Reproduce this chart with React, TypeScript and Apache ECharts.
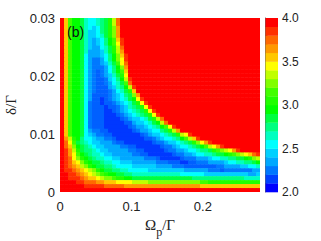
import React, { useEffect, useRef } from "react";
import * as echarts from "echarts";

// Colour levels of the legend bar, from 2.0 (a) up to 4.0 (t), 0.1 per level.
const levelColors = [
  "#0000ff", "#0040ff", "#0078ff", "#00a8ff", "#00d0ff", "#00ffff", "#00ffc0", "#00ff80", "#00ff40", "#00ff00",
  "#20ff00", "#40ff00", "#80ff00", "#c0ff00", "#ffff00", "#ffc800", "#ff9800", "#ff6800", "#ff3000", "#ff0000",
];
// The two deepest bands look lighter in the map than in the bar.
const deepMapColors = ["#0038ff", "#0060ff"];
const levelMin = 2;
const levelStep = 0.1;
const xMax = 0.28;
const yMax = 0.03;
const xTicks = [0, 0.1, 0.2];
const yTicks = [0, 0.01, 0.02, 0.03];
const barTicks = [2, 2.5, 3, 3.5, 4];
const columnCount = 50;

// Levels, one string per row from the top down; a row's last letter holds to the right edge.
const heatRows = [
  "tpljjigffghiknrt",
  "tpljjigffghiknrt",
  "tpljjigfefhikmqt",
  "tpljjigeefhikmqt",
  "tpljjigeefgikmqt",
  "tpljjigedefhjlpst",
  "tpljjigedefhjlost",
  "tpljjigeddfgiknrt",
  "tpljjigdddegiknqt",
  "tpljjifdddefhjmpst",
  "tpljjifdccdfhjmost",
  "tpljjifdccdegilort",
  "tpljjifdcccdfhjmqt",
  "tpljjifdcbcdfhjlpt",
  "tpljjifdcbcdegikot",
  "tpljjifdcbbcefhjnst",
  "tpljjifdcbbcdfgilrt",
  "tpljjifdcbbbdeghjnst",
  "tpljjifdcbbbcdfgikpt",
  "tpljjifdbbbbcdefhimqt",
  "tpljjifdbbabcdefgijost",
  "tpljjifcbbabbcdefgikost",
  "tpljjifcbbbabbcdeghikost",
  "tpljjifcbbbaabcdefghikost",
  "tpljjifcbbbaaabcdefghikost",
  "tpljjifcbbbaaaabcdeefgiknrt",
  "tpljjifcbbbaaaaabbdeefgijnrt",
  "tpljjifcbbbaaaaaabcddefghjlost",
  "tpljjifdccbbaaaaaabcddeffhiknqt",
  "tpljjifedccbbaaaaaaabcdeefghiknost",
  "tqnkjhffeddccbaaaaaaabbcdeffghjlnpst",
  "trolihgfeedddcbbaaaaaaabccdeefghikmoqst",
  "trpmjihgfeeddddccbbaaaaaabccdeffghijlnoqst",
  "tsqnkihhgfeedddddccbbaaaaabccddeffghhiklmnoqst",
  "tsqoljihggfeedddddccbbaaaaaabccddeffgghiijklmnoprs",
  "tsromkjihggffeeddddddcccbaaaaabcccdddeffgghhiijkmn",
  "tsrpomkjiihggffeeeddddddcccbbbaabbcccddddeffgghhij",
  "tsrqpnmkjiihhgffffeeeeeeddddcccbbbbbbbbccddddeeffg",
  "tssrqponmkjiihhggfffffeeeeeeeeeddddddcccbcccccccdd",
  "ttssrqponmlkjjiihhggggggggggggffffffeeeeeeeeeeedde",
  "ttsssrqpponmmlkkjjiiiiiiiiiiiiiiihhhhhhhhhhhhhgggg",
  "ttttssrrrqqpppoooonnnnmmmmmmmmmmmmmllkkkkkkkkkkkkk",
  "ttttttsssssrrrrrqqqqqqqqqqqqqqqqqqqppppppppppppppp",
  "t",
];

const rowCount = heatRows.length;
const cellW = xMax / columnCount;
const cellH = yMax / rowCount;

function heatCells(): number[][] {
  const cells: number[][] = [];
  heatRows.forEach((row, r) => {
    for (let c = 0; c < columnCount; c++) {
      const ch = row[Math.min(c, row.length - 1)];
      const level = ch.charCodeAt(0) - 97;
      cells.push([(c + 0.5) * cellW, yMax - (r + 0.5) * cellH, levelMin + (level + 0.5) * levelStep]);
    }
  });
  return cells;
}

const levelOf = (v: number) =>
  Math.max(0, Math.min(levelColors.length - 1, Math.floor((v - levelMin) / levelStep)));
const barColor = (v: number) => levelColors[levelOf(v)];
const mapColor = (v: number) => deepMapColors[levelOf(v)] || levelColors[levelOf(v)];

const labelFont = "'Liberation Sans', Arial, sans-serif";
const serif = "'Liberation Serif', 'DejaVu Serif', serif";

export default function App() {
  const ref = useRef<HTMLDivElement>(null);
  useEffect(() => {
    if (!ref.current) return;
    const chart = echarts.init(ref.current, undefined, { renderer: "svg", width: 321, height: 241 });
    chart.setOption({
      animation: false,
      backgroundColor: "#ffffff",
      grid: [
        { left: 60, top: 18, width: 200, height: 174, outerBoundsMode: "none" },
        { left: 265.5, top: 18, width: 12.5, height: 174, outerBoundsMode: "none" },
      ],
      xAxis: [
        {
          type: "value",
          gridIndex: 0,
          min: 0,
          max: xMax,
          interval: 0.1,
          axisLine: { show: false },
          axisTick: { show: false },
          splitLine: { show: false },
          axisLabel: {
            color: "#222",
            fontFamily: labelFont,
            fontSize: 13,
            margin: 8,
            showMaxLabel: false,
            formatter: (v: number) => (xTicks.some((t) => Math.abs(t - v) < 1e-6) ? (v === 0 ? "0" : v.toFixed(1)) : ""),
          },
          name: "{a|Ω}{b|p}{a|/Γ}",
          nameLocation: "middle",
          nameGap: 20,
          nameTextStyle: {
            rich: {
              a: { fontFamily: serif, fontSize: 15, color: "#222" },
              b: { fontFamily: serif, fontSize: 12, color: "#222", padding: [14, 0, 0, 0] },
            },
          },
        },
        { type: "value", gridIndex: 1, min: 0, max: 1, show: false },
      ],
      yAxis: [
        {
          type: "value",
          gridIndex: 0,
          min: 0,
          max: yMax,
          interval: 0.01,
          axisLine: { show: false },
          axisTick: { show: false },
          splitLine: { show: false },
          axisLabel: {
            color: "#222",
            fontFamily: labelFont,
            fontSize: 13,
            margin: 5,
            formatter: (v: number) => {
              const t = yTicks.find((k) => Math.abs(k - v) < 1e-6);
              return t === undefined ? "" : t === 0 ? "0" : t.toFixed(2);
            },
          },
          name: "δ/Γ",
          nameLocation: "middle",
          nameGap: 42,
          nameTextStyle: { fontFamily: serif, fontSize: 15, color: "#222" },
        },
        {
          type: "value",
          gridIndex: 1,
          position: "right",
          min: levelMin,
          max: 4,
          interval: 0.5,
          axisLine: { show: true, lineStyle: { color: "#666", width: 1 } },
          axisTick: { show: false },
          minorTick: { show: true, splitNumber: 5, length: 2, lineStyle: { color: "#555", width: 1 } },
          splitLine: { show: false },
          axisLabel: {
            color: "#222",
            fontFamily: labelFont,
            fontSize: 12,
            margin: 4,
            formatter: (v: number) => (barTicks.includes(v) ? v.toFixed(1) : ""),
          },
        },
      ],
      series: [
        {
          type: "custom",
          xAxisIndex: 0,
          yAxisIndex: 0,
          silent: true,
          clip: true,
          data: heatCells(),
          encode: { x: 0, y: 1 },
          renderItem: (_p: any, api: any) => {
            const c = api.coord([api.value(0), api.value(1)]);
            const s = api.size([cellW, cellH]);
            return {
              type: "rect",
              shape: { x: c[0] - s[0] / 2, y: c[1] - s[1] / 2, width: s[0] + 0.5, height: s[1] + 0.5 },
              style: { fill: mapColor(api.value(2)) },
            };
          },
        },
        {
          type: "custom",
          xAxisIndex: 1,
          yAxisIndex: 1,
          silent: true,
          z: 1,
          data: levelColors.map((_, i) => [0, levelMin + i * levelStep, levelMin + (i + 1) * levelStep]),
          encode: { x: 0, y: 1 },
          renderItem: (_p: any, api: any) => {
            const a = api.coord([0, api.value(2)]);
            const b = api.coord([1, api.value(1)]);
            return {
              type: "rect",
              shape: { x: a[0], y: a[1], width: b[0] - a[0], height: b[1] - a[1] + 0.3 },
              style: { fill: barColor((api.value(1) + api.value(2)) / 2) },
            };
          },
        },
      ],
      graphic: [
        {
          type: "text",
          x: 67,
          y: 25,
          z: 10,
          style: { text: "(b)", fontFamily: labelFont, fontSize: 14, fill: "#111" },
        },
      ],
    });
    return () => chart.dispose();
  }, []);
  return <div ref={ref} style={{ position: "fixed", left: 0, top: 0, width: 321, height: 241 }} />;
}
